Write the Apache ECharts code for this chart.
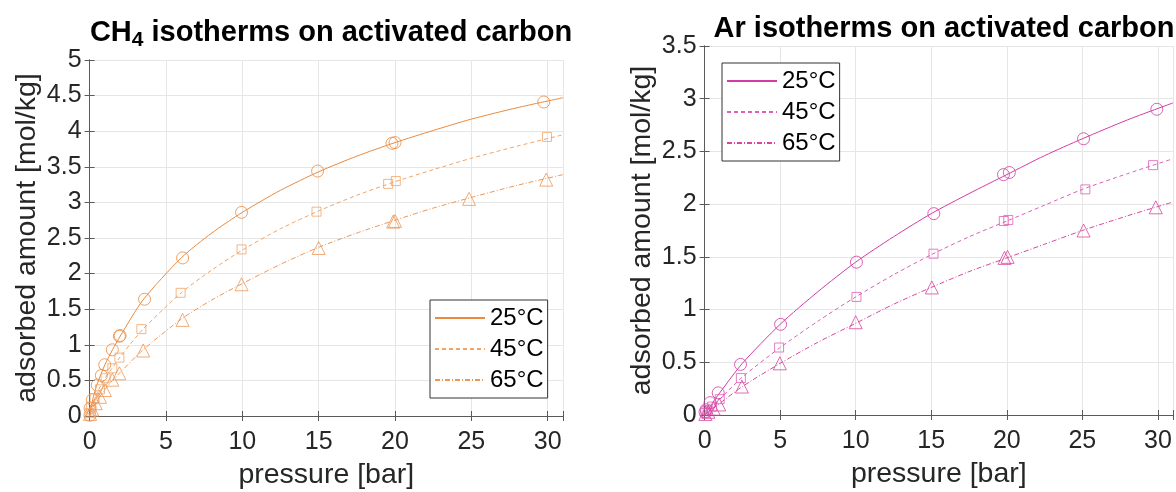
<!DOCTYPE html>
<html>
<head>
<meta charset="utf-8">
<script src="https://cdn.jsdelivr.net/npm/echarts@6/dist/echarts.min.js"></script>
<style>
  html, body { margin: 0; padding: 0; background: #fff; }
  #chart { width: 1176px; height: 492px; }
</style>
</head>
<body>
<div id="chart"></div>
<script>
// ---- Measured isotherm points: [pressure (bar), adsorbed amount (mol/kg)] ----
const ch4Points25 = [[0.02,0.01],[0.03,0.11],[0.18,0.23],[0.5,0.435],[0.77,0.57],[0.99,0.72],[1.49,0.93],[1.95,1.12],[2.0,1.13],[3.6,1.64],[6.09,2.22],[9.95,2.86],[14.93,3.44],[19.8,3.83],[20.0,3.84],[29.74,4.41]];
const ch4Points45 = [[0.0,0.04],[0.1,0.13],[0.33,0.25],[0.68,0.375],[1.05,0.53],[1.49,0.67],[1.95,0.82],[3.39,1.22],[5.96,1.73],[9.95,2.34],[14.86,2.87],[19.55,3.26],[20.05,3.3],[29.95,3.92]];
const ch4Points65 = [[0.03,0.03],[0.18,0.09],[0.4,0.18],[0.68,0.27],[1.0,0.365],[1.49,0.51],[1.95,0.6],[3.51,0.92],[6.09,1.35],[9.95,1.85],[15.0,2.36],[19.88,2.73],[20.0,2.74],[24.85,3.05],[29.9,3.32]];

const arPoints25 = [[0.03,0.03],[0.1,0.05],[0.36,0.117],[0.9,0.21],[2.38,0.48],[5.03,0.86],[10.05,1.45],[15.17,1.91],[19.78,2.28],[20.17,2.30],[25.08,2.62],[29.93,2.90]];
const arPoints45 = [[0.05,0.02],[0.2,0.05],[0.5,0.08],[1.0,0.15],[2.4,0.35],[4.93,0.64],[10.05,1.12],[15.15,1.53],[19.8,1.84],[20.1,1.85],[25.2,2.14],[29.68,2.37]];
const arPoints65 = [[0.05,0.01],[0.25,0.03],[0.6,0.06],[0.97,0.1],[2.47,0.27],[4.98,0.49],[10.0,0.88],[15.04,1.21],[19.85,1.49],[20.05,1.50],[25.08,1.75],[29.86,1.97]];

// ---- Fitted isotherm curves ----
const ch4Fit25 = [[0,0],[0.25,0.27],[0.5,0.45],[1,0.72],[1.5,0.93],[2,1.12],[3.5,1.63],[6,2.22],[8,2.57],[10,2.86],[12.5,3.17],[15,3.43],[17.5,3.65],[20,3.84],[22.5,4.01],[25,4.17],[28,4.33],[31,4.47]];
const ch4Fit45 = [[0,0],[0.25,0.19],[0.5,0.33],[1,0.53],[1.5,0.68],[2,0.83],[3.5,1.22],[6,1.73],[8,2.05],[10,2.33],[12.5,2.63],[15,2.88],[17.5,3.10],[20,3.29],[22.5,3.46],[25,3.62],[28,3.79],[31,3.95]];
const ch4Fit65 = [[0,0],[0.25,0.13],[0.5,0.22],[1,0.37],[1.5,0.50],[2,0.61],[3.5,0.93],[6,1.36],[8,1.63],[10,1.86],[12.5,2.13],[15,2.37],[17.5,2.57],[20,2.75],[22.5,2.92],[25,3.07],[28,3.24],[31,3.39]];

const arFit25 = [[0,0],[0.5,0.11],[1,0.21],[2.5,0.49],[5,0.86],[7.5,1.17],[10,1.45],[12.5,1.69],[15,1.91],[17.5,2.10],[20,2.28],[22.5,2.46],[25,2.62],[28,2.80],[31,2.96]];
const arFit45 = [[0,0],[0.5,0.08],[1,0.15],[2.5,0.36],[5,0.64],[7.5,0.89],[10,1.12],[12.5,1.33],[15,1.52],[17.5,1.69],[20,1.84],[22.5,1.99],[25,2.14],[28,2.29],[31,2.43]];
const arFit65 = [[0,0],[0.5,0.055],[1,0.11],[2.5,0.27],[5,0.49],[7.5,0.69],[10,0.87],[12.5,1.05],[15,1.21],[17.5,1.36],[20,1.49],[22.5,1.62],[25,1.75],[28,1.89],[31,2.02]];

const temperatures = ['25°C', '45°C', '65°C'];
const ch4Colors = ['#EA8A3D', '#F0A468', '#EE9656'];
const arColors = ['#D43BA4', '#DE5FB8', '#D8469F'];
const markerShapes = ['circle', 'rect', 'triangle'];
const markerSizes = [12, 9, 13];
const dashStyles = ['solid', [4, 3], [5, 2, 1, 2]];

const FONT = 'Liberation Sans, Arial, Helvetica, sans-serif';
const TEXT = '#262626';
const AXIS = '#5a5a5a';

function mainX(gridIndex) {
  return {
    gridIndex, type: 'value', min: 0, max: 31, interval: 5,
    name: 'pressure [bar]', nameLocation: 'middle', nameGap: 45,
    nameTextStyle: { fontFamily: FONT, fontSize: 28.5, color: TEXT },
    axisLine: { show: true, lineStyle: { color: AXIS } },
    axisTick: { show: true, inside: true, length: 5, lineStyle: { color: AXIS } },
    axisLabel: { fontFamily: FONT, fontSize: 25, color: TEXT, margin: 14,
      formatter: v => (v % 5 === 0 ? String(v) : '') },
    splitLine: { show: true, lineStyle: { color: '#e6e6e6' } }
  };
}
function topX(gridIndex) {
  return {
    gridIndex, type: 'value', position: 'top', min: 0, max: 31, interval: 5,
    axisLine: { show: true, lineStyle: { color: AXIS } },
    axisTick: { show: true, inside: true, length: 5, lineStyle: { color: AXIS } },
    axisLabel: { show: false }, splitLine: { show: false }
  };
}
function mainY(gridIndex, max) {
  return {
    gridIndex, type: 'value', min: 0, max, interval: 0.5,
    name: 'adsorbed amount [mol/kg]', nameLocation: 'middle', nameGap: 48,
    nameTextStyle: { fontFamily: FONT, fontSize: 28.5, color: TEXT },
    axisLine: { show: true, lineStyle: { color: AXIS } },
    axisTick: { show: true, inside: true, length: 5, lineStyle: { color: AXIS } },
    axisLabel: { fontFamily: FONT, fontSize: 25, color: TEXT, margin: 8 },
    splitLine: { show: true, lineStyle: { color: '#e6e6e6' } }
  };
}
function rightY(gridIndex, max) {
  return {
    gridIndex, type: 'value', position: 'right', min: 0, max, interval: 0.5,
    axisLine: { show: true, lineStyle: { color: AXIS } },
    axisTick: { show: true, inside: true, length: 5, lineStyle: { color: AXIS } },
    axisLabel: { show: false }, splitLine: { show: false }
  };
}

function fitSeries(prefix, data, i, colors, axisIdx) {
  return {
    name: prefix + temperatures[i], type: 'line', data,
    xAxisIndex: axisIdx, yAxisIndex: axisIdx,
    smooth: 0.25, symbol: 'none', z: 3,
    lineStyle: { color: colors[i], width: 1, type: dashStyles[i] },
    itemStyle: { color: colors[i] }
  };
}
function pointSeries(prefix, data, i, colors, axisIdx) {
  return {
    name: prefix + 'pts' + i, type: 'scatter', data,
    xAxisIndex: axisIdx, yAxisIndex: axisIdx,
    symbol: markerShapes[i], symbolSize: markerSizes[i], z: 4,
    itemStyle: { color: 'rgba(255,255,255,0)', borderColor: colors[i], borderWidth: 1 }
  };
}

const ch4Fits = [ch4Fit25, ch4Fit45, ch4Fit65];
const ch4Pts = [ch4Points25, ch4Points45, ch4Points65];
const arFits = [arFit25, arFit45, arFit65];
const arPts = [arPoints25, arPoints45, arPoints65];

const series = [];
for (let i = 0; i < 3; i++) {
  series.push(fitSeries('CH4 ', ch4Fits[i], i, ch4Colors, 0));
  series.push(pointSeries('CH4 ', ch4Pts[i], i, ch4Colors, 0));
  series.push(fitSeries('Ar ', arFits[i], i, arColors, 1));
  series.push(pointSeries('Ar ', arPts[i], i, arColors, 1));
}

function legendBox(names, left, top) {
  return {
    data: names, left, top, orient: 'vertical',
    itemWidth: 50, itemHeight: 14, itemGap: 7,
    padding: [6, 4, 6, 4],
    backgroundColor: '#fff', borderColor: '#333', borderWidth: 1,
    itemStyle: { opacity: 0, borderWidth: 0 },
    formatter: n => n.split(' ')[1],
    textStyle: { fontFamily: FONT, fontSize: 24, color: '#000', lineHeight: 24 },
    selectedMode: false
  };
}

const option = {
  animation: false,
  backgroundColor: '#fff',
  title: [
    {
      text: '{b|CH}{s|4}{b| isotherms on activated carbon}',
      left: 326, top: 9, textAlign: 'center',
      textStyle: { rich: {
        b: { fontFamily: FONT, fontSize: 29, fontWeight: 'bold', color: '#000' },
        s: { fontFamily: FONT, fontSize: 21, fontWeight: 'bold', color: '#000', verticalAlign: 'bottom', padding: [16, 0, 0, 0] }
      } }
    },
    {
      text: 'Ar isotherms on activated carbon',
      left: 939, top: 9, textAlign: 'center',
      textStyle: { fontFamily: FONT, fontSize: 29, fontWeight: 'bold', color: '#000' }
    }
  ],
  legend: [
    legendBox(temperatures.map(t => 'CH4 ' + t), 430, 300),
    legendBox(temperatures.map(t => 'Ar ' + t), 722, 63)
  ],
  grid: [
    { left: 89.6, top: 60, width: 473.4, height: 356, outerBoundsMode: 'none' },
    { left: 704.6, top: 46, width: 468.4, height: 369, outerBoundsMode: 'none' }
  ],
  xAxis: [mainX(0), mainX(1), topX(0), topX(1)],
  yAxis: [mainY(0, 5), mainY(1, 3.5), rightY(0, 5), rightY(1, 3.5)],
  series
};

const chart = echarts.init(document.getElementById('chart'), null, { renderer: 'canvas' });
chart.setOption(option);
</script>
</body>
</html>
